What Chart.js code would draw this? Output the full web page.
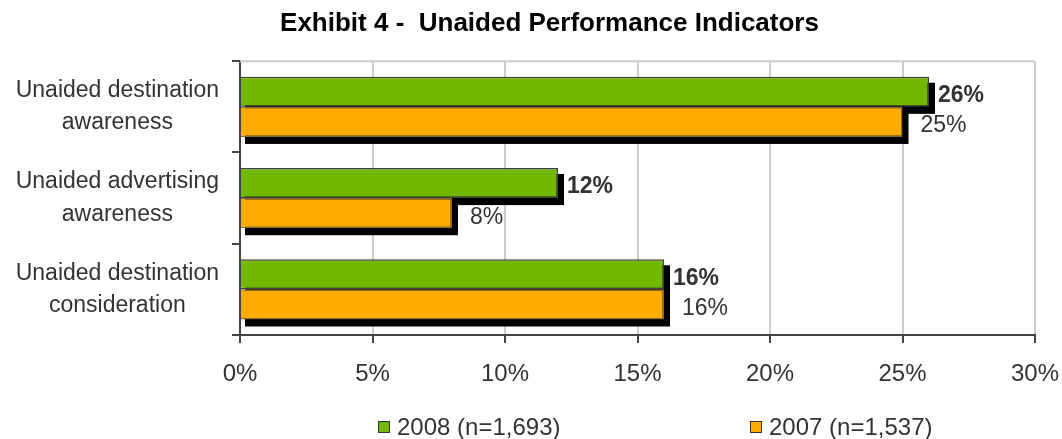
<!DOCTYPE html>
<html>
<head>
<meta charset="utf-8">
<script src="https://cdn.jsdelivr.net/npm/chart.js@4"></script>
<style>
  html, body { margin: 0; padding: 0; background: #fff; }
</style>
</head>
<body>
<canvas id="grafico" width="1062" height="439"></canvas>
<script>
const categories = [
    ["Unaided destination", "awareness"],
    ["Unaided advertising", "awareness"],
    ["Unaided destination", "consideration"]
];
const seriesNames = ["2008 (n=1,693)", "2007 (n=1,537)"];
const values2008 = [26, 12, 16];
const values2007 = [25, 8, 16];
const xTicks = [0, 5, 10, 15, 20, 25, 30];

const FONT = "'Liberation Sans', Arial, sans-serif";
const TEXT = '#333333';
Chart.defaults.font.family = FONT;

// title sits a little right of the canvas centre
const titleShift = {
    id: 'titleShift',
    afterLayout(chart) {
        if (chart.titleBlock) chart.titleBlock.left += 64;
    }
};

// black drop shadow behind every bar + grey top frame line
const shadowPlugin = {
    id: 'shadow',
    beforeDatasetsDraw(chart) {
        const { ctx, chartArea } = chart;
        ctx.save();
        ctx.strokeStyle = '#cccccc';
        ctx.lineWidth = 2;
        ctx.beginPath();
        ctx.moveTo(chartArea.left, chartArea.top);
        ctx.lineTo(chartArea.right, chartArea.top);
        ctx.stroke();
        ctx.fillStyle = '#000';
        chart.data.datasets.forEach((ds, i) => {
            chart.getDatasetMeta(i).data.forEach(bar => {
                const top = bar.y - bar.height / 2;
                ctx.fillRect(bar.base + 4, top + 6, bar.x - bar.base + 2, bar.height + 1);
            });
        });
        ctx.restore();
    }
};

// value labels at the end of the bars
const labelPlugin = {
    id: 'valueLabels',
    afterDatasetsDraw(chart) {
        const { ctx } = chart;
        ctx.save();
        ctx.fillStyle = TEXT;
        ctx.textBaseline = 'middle';
        ctx.textAlign = 'left';
        chart.data.datasets.forEach((ds, i) => {
            ctx.font = (i === 0 ? 'bold ' : '') + '23px ' + FONT;
            const gap = i === 0 ? 9 : 18;
            chart.getDatasetMeta(i).data.forEach((bar, j) => {
                ctx.fillText(ds.data[j] + '%', bar.x + gap, bar.y + 4);
            });
        });
        ctx.restore();
    }
};

// legend below the axis, items spread apart
const legendPlugin = {
    id: 'bottomLegend',
    afterDraw(chart) {
        const { ctx } = chart;
        const xs = [378, 750];
        const y = 427;
        ctx.save();
        ctx.font = '24px ' + FONT;
        ctx.textBaseline = 'middle';
        ctx.textAlign = 'left';
        chart.data.datasets.forEach((ds, i) => {
            ctx.fillStyle = ds.backgroundColor;
            ctx.fillRect(xs[i], y - 6, 12, 12);
            ctx.strokeStyle = '#333';
            ctx.lineWidth = 1;
            ctx.strokeRect(xs[i] + 0.5, y - 5.5, 11, 11);
            ctx.fillStyle = TEXT;
            ctx.fillText(ds.label, xs[i] + 19, y + 1);
        });
        ctx.restore();
    }
};

new Chart(document.getElementById('grafico'), {
    type: 'bar',
    data: {
        labels: categories,
        datasets: [
            {
                label: seriesNames[0],
                data: values2008,
                backgroundColor: '#72b800',
                borderColor: '#3f3f3f',
                borderWidth: 1.5,
                categoryPercentage: 0.66,
                barPercentage: 1
            },
            {
                label: seriesNames[1],
                data: values2007,
                backgroundColor: '#ffab00',
                borderColor: '#8a6a30',
                borderWidth: 1.5,
                categoryPercentage: 0.66,
                barPercentage: 1
            }
        ]
    },
    plugins: [titleShift, shadowPlugin, labelPlugin, legendPlugin],
    options: {
        responsive: false,
        animation: false,
        devicePixelRatio: 1,
        indexAxis: 'y',
        layout: { padding: { left: 0, right: 27, top: 0, bottom: 0 } },
        plugins: {
            legend: { display: false },
            tooltip: { enabled: false },
            title: {
                display: true,
                text: 'Exhibit 4 -  Unaided Performance Indicators',
                color: '#000',
                font: { family: FONT, size: 26, weight: 'bold' },
                padding: { top: 8, bottom: 22 }
            }
        },
        scales: {
            x: {
                min: 0,
                max: 30,
                afterBuildTicks: s => { s.ticks = xTicks.map(v => ({ value: v })); },
                afterFit: s => { s.height = 104; s.paddingLeft = 0; s.paddingRight = 0; },
                ticks: {
                    callback: v => v + '%',
                    color: TEXT,
                    font: { size: 24 },
                    padding: 17,
                    maxRotation: 0
                },
                grid: { color: '#cccccc', lineWidth: 2, tickColor: '#444', tickLength: 8, tickWidth: 2 },
                border: { color: '#444', width: 2 }
            },
            y: {
                afterFit: s => { s.width = 240; },
                ticks: {
                    crossAlign: 'center',
                    padding: 13,
                    color: TEXT,
                    font: { size: 23, lineHeight: 1.4 }
                },
                grid: { drawOnChartArea: false, color: '#444', lineWidth: 2, tickLength: 8 },
                border: { color: '#444', width: 2 }
            }
        }
    }
});
</script>
</body>
</html>
